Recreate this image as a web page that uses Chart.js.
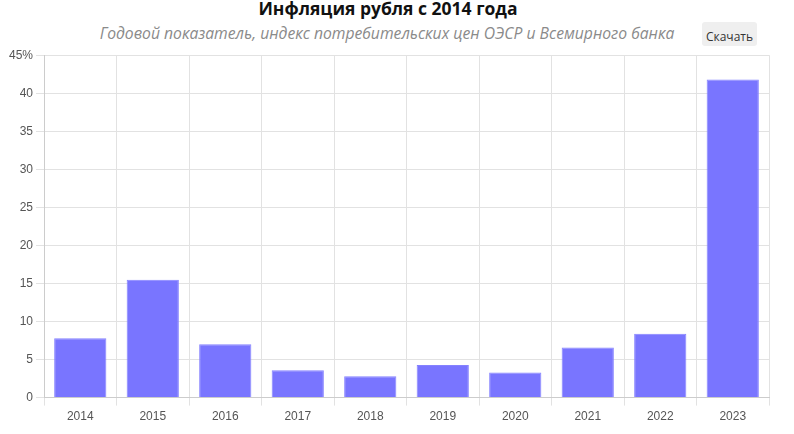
<!DOCTYPE html>
<html lang="ru">
<head>
<meta charset="utf-8">
<script src="https://cdn.jsdelivr.net/npm/chart.js@4"></script>
<style>
  body { margin: 0; background: #fff; font-family: "Open Sans", sans-serif; }
  .wrap { position: relative; width: 794px; height: 434px; }
  .title { position: absolute; left: 0; top: -4px; width: 776px; text-align: center; font-size: 17.5px; font-weight: bold; color: #111; }
  .subtitle { position: absolute; left: 0; top: 22px; width: 774px; text-align: center; font-size: 15.7px; font-style: italic; color: #8a8a8a; }
  .btn { position: absolute; left: 702px; top: 22px; width: 55px; height: 24px; background: #efefef; border-radius: 3px; font-size: 12px; color: #333; text-align: center; line-height: 30px; }
  .box { position: absolute; left: 0; top: 45px; width: 794px; height: 389px; }
</style>
</head>
<body>
<div class="wrap">
  <div class="title">Инфляция рубля с 2014 года</div>
  <div class="subtitle">Годовой показатель, индекс потребительских цен ОЭСР и Всемирного банка</div>
  <div class="btn">Скачать</div>
  <div class="box"><canvas id="inflChart"></canvas></div>
</div>
<script>
// годы и значения инфляции (%)
const years = ['2014', '2015', '2016', '2017', '2018', '2019', '2020', '2021', '2022', '2023'];
const inflation = [7.8, 15.5, 7.0, 3.6, 2.8, 4.3, 3.3, 6.6, 8.4, 41.8];

const ctx = document.getElementById('inflChart').getContext('2d');
new Chart(ctx, {
    type: 'bar',
    data: {
        labels: years,
        datasets: [{
            label: 'Инфляция',
            data: inflation,
            backgroundColor: '#7975ff',
            borderColor: '#8582ff',
            borderWidth: 1
        }]
    },
    options: {
        responsive: true,
        maintainAspectRatio: false,
        animation: false,
        layout: { padding: { left: 6, right: 25, top: 4, bottom: 6 } },
        plugins: {
            legend: { display: false },
            tooltip: { enabled: false }
        },
        scales: {
            x: {
                grid: { color: '#e2e2e2', tickLength: 8, offset: true },
                border: { color: '#cccccc' },
                ticks: { color: '#555', font: { family: 'Liberation Sans, Arial', size: 12 }, padding: 4 }
            },
            y: {
                min: 0,
                max: 45,
                grid: { color: '#e2e2e2', tickLength: 8 },
                border: { color: '#cccccc' },
                ticks: {
                    stepSize: 5,
                    color: '#555',
                    font: { family: 'Liberation Sans, Arial', size: 12 },
                    callback: v => v === 45 ? v + '%' : v
                }
            }
        }
    }
});
</script>
</body>
</html>
